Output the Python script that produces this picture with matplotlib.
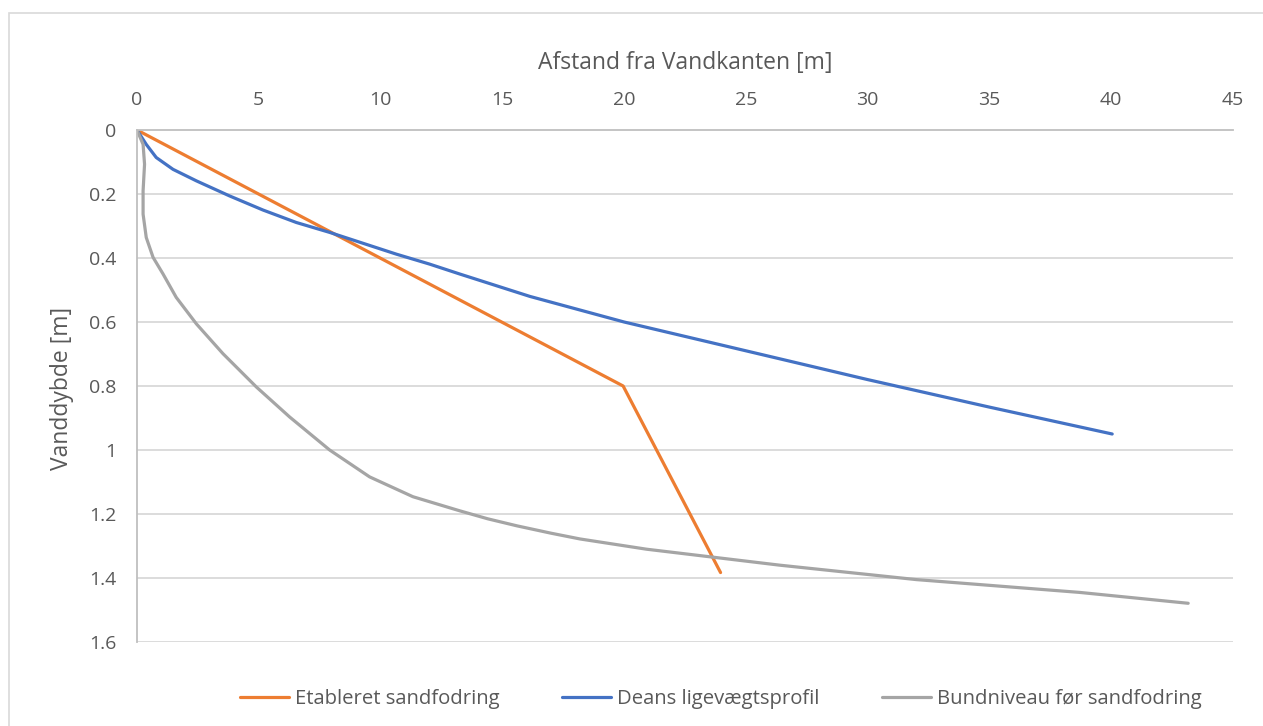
import matplotlib
matplotlib.use("Agg")
import matplotlib.pyplot as plt
from matplotlib.patches import Rectangle

# ---- data ----
etab_x = [0, 19.96, 23.96]
etab_y = [0, 0.80, 1.383]

dean_x = [0, 0.38, 0.79, 1.48, 2.44, 3.80, 5.17, 6.54, 7.91, 9.28, 10.65, 12.01, 13.25,
          16.13, 20.0, 25.0, 30.0, 35.0, 40.04]
dean_y = [0, 0.045, 0.086, 0.123, 0.159, 0.206, 0.250, 0.289, 0.320, 0.354, 0.388, 0.419, 0.450,
          0.52, 0.60, 0.69, 0.78, 0.866, 0.95]

bund_x = [0, 0.25, 0.31, 0.25, 0.25, 0.38, 0.66, 1.07, 1.61, 2.44, 3.53, 4.90, 6.27,
          7.91, 9.55, 11.33, 13.25, 14.4, 15.6, 17.0, 18.19, 20.92, 23.66, 26.4, 32.0, 38.7, 43.16]
bund_y = [0, 0.045, 0.107, 0.19, 0.263, 0.336, 0.398, 0.45, 0.523, 0.606, 0.699, 0.803, 0.897,
          1.0, 1.084, 1.146, 1.19, 1.215, 1.237, 1.26, 1.278, 1.31, 1.335, 1.36, 1.405, 1.445, 1.479]

labels = ["Etableret sandfodring", "Deans ligevægtsprofil", "Bundniveau før sandfodring"]
colors = ["#ED7D31", "#4472C4", "#A5A5A5"]

x_ticks = [0, 5, 10, 15, 20, 25, 30, 35, 40, 45]
y_ticks = [0, 0.2, 0.4, 0.6, 0.8, 1, 1.2, 1.4, 1.6]
y_ticklabels = ["0", "0.2", "0.4", "0.6", "0.8", "1", "1.2", "1.4", "1.6"]

xlabel = "Afstand fra Vandkanten [m]"
ylabel = "Vanddybde [m]"

plt.rcParams['font.family'] = ['Open Sans', 'DejaVu Sans']
txt = "#595959"

W, H = 1263, 726
fig = plt.figure(figsize=(W / 100, H / 100), dpi=100)
fig.patch.set_facecolor("white")

# chart border (partly cropped in the reference)
fig.patches.append(Rectangle((9.3 / W, -0.05), 1.2, 1 - 12.7 / H + 0.05,
                             transform=fig.transFigure, fill=False,
                             edgecolor="#d9d9d9", linewidth=1.2))

ax = fig.add_axes([137 / W, 1 - 642 / H, (1233 - 137) / W, (642 - 130) / H])
ax.set_xlim(0, 45)
ax.set_ylim(1.6, 0)

for y in y_ticks[1:]:
    ax.axhline(y, color="#d9d9d9", linewidth=1.3, zorder=0)

lw = 2.3
ax.plot(etab_x, etab_y, color=colors[0], linewidth=lw, label=labels[0],
        solid_capstyle="round", solid_joinstyle="round")
ax.plot(dean_x, dean_y, color=colors[1], linewidth=lw, label=labels[1],
        solid_capstyle="round", solid_joinstyle="round")
ax.plot(bund_x, bund_y, color=colors[2], linewidth=lw, label=labels[2],
        solid_capstyle="round", solid_joinstyle="round")

ax.xaxis.tick_top()
ax.set_xticks(x_ticks)
ax.set_xticklabels([str(v) for v in x_ticks])
ax.set_yticks(y_ticks)
ax.set_yticklabels(y_ticklabels)
ax.tick_params(axis="x", length=0, pad=15, labelsize=14, colors=txt)
ax.tick_params(axis="y", length=0, pad=15, labelsize=14, colors=txt)

for s in ["right", "bottom"]:
    ax.spines[s].set_visible(False)
for s in ["left", "top"]:
    ax.spines[s].set_color("#bfbfbf")
    ax.spines[s].set_linewidth(1.3)

fig.text(685 / W, 1 - 63 / H, xlabel, ha="center", va="center", fontsize=16.5, color=txt)
fig.text(62 / W, 1 - 388 / H, ylabel, ha="center", va="center", rotation=90,
         fontsize=16.5, color=txt)

leg = fig.legend(loc="center", bbox_to_anchor=(721 / W, 1 - 699 / H), ncol=3,
                 frameon=False, fontsize=14.6, handlelength=2.4, handletextpad=0.3,
                 columnspacing=3.1, labelcolor=txt)

fig.savefig("out.png", dpi=100, facecolor="white")
